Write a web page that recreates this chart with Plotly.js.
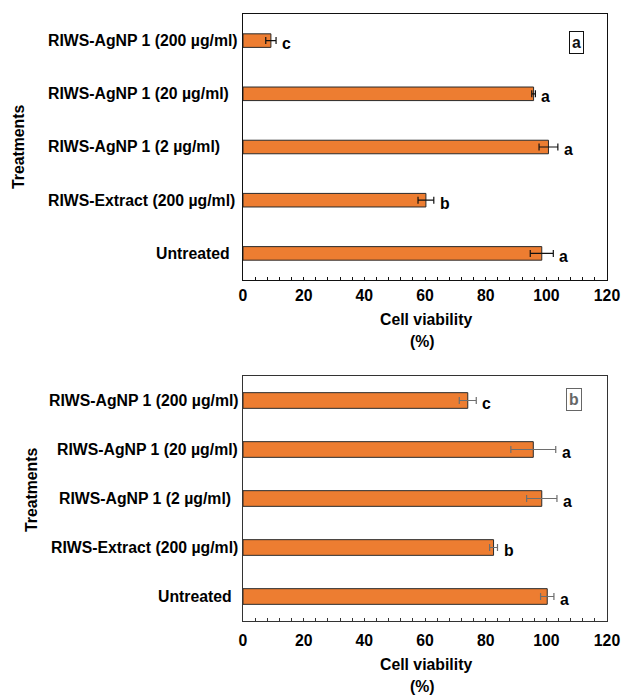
<!DOCTYPE html>
<html>
<head>
<meta charset="utf-8">
<script src="https://cdn.plot.ly/plotly-3.0.1.min.js"></script>
<style>html,body{margin:0;padding:0;background:#fff;}#chart{width:626px;height:695px;}</style>
</head>
<body>
<div id="chart"></div>
<script>
// ---- data ----
const categories = ["Untreated", "RIWS-Extract (200 µg/ml)", "RIWS-AgNP 1 (2 µg/ml)", "RIWS-AgNP 1 (20 µg/ml)", "RIWS-AgNP 1 (200 µg/ml)"];
const valuesA = [98.5, 60.3, 100.7, 95.8, 9.2];
const errorsA = [3.8, 2.6, 3.1, 0.6, 1.7];
const lettersA = ["a", "b", "a", "a", "c"];
const valuesB = [100.3, 82.6, 98.5, 95.7, 74.1];
const errorsB = [2.2, 1.3, 5.0, 7.4, 2.8];
const lettersB = ["a", "b", "a", "a", "c"];
const xTicks = [0, 20, 40, 60, 80, 100, 120];
const xTitle = "Cell viability";
const xUnit = "(%)";
const yTitle = "Treatments";
const panelLabels = ["a", "b"];

// ---- layout helpers ----
const W = 626, H = 695;
const px = x => x / W;
const py = y => 1 - y / H;
const FONT = "Liberation Sans, Arial, sans-serif";
const FS = 15.8;
const font = (size, color) => ({family: FONT, size: size, color: color || "#000", weight: 700});
const ORANGE = "#ED7D31";

// label placement: [anchor, pixel x] per category (same order as categories)
const panels = [
  {vals: valuesA, errs: errorsA, letters: lettersA, top: 14, bottom: 280, axisColor: "#111", errColor: "#111",
   barW: 0.255, labelPos: [["right", 232], ["left", 46], ["left", 46], ["left", 46], ["left", 46]],
   tickStand: 1, titleY: 319, unitY: 341, yTitleX: 18, yTitleY: 147,
   panelBox: {x: 576, y: 42, color: "#111"}},
  {vals: valuesB, errs: errorsB, letters: lettersB, top: 376, bottom: 621, axisColor: "#333", errColor: "#6e6e6e",
   barW: 0.32, labelPos: [["right", 234], ["right", 239.5], ["right", 232.5], ["right", 239.5], ["right", 241]],
   tickStand: 5, titleY: 664, unitY: 686, yTitleX: 32, yTitleY: 490,
   panelBox: {x: 574, y: 399, color: "#666"}}
];

const data = [];
const annotations = [];
const layout = {
  width: W, height: H,
  margin: {l: 0, r: 0, t: 0, b: 0},
  paper_bgcolor: "#fff", plot_bgcolor: "#fff",
  showlegend: false,
  annotations: annotations
};

panels.forEach((p, i) => {
  const xa = i === 0 ? "x" : "x2";
  const ya = i === 0 ? "y" : "y2";
  const xk = i === 0 ? "xaxis" : "xaxis2";
  const yk = i === 0 ? "yaxis" : "yaxis2";
  data.push({
    type: "bar", orientation: "h",
    x: p.vals, y: categories,
    xaxis: xa, yaxis: ya,
    width: p.barW,
    marker: {color: ORANGE, line: {color: "#2a2a2a", width: 1}},
    error_x: {type: "data", array: p.errs, visible: true, color: p.errColor, thickness: 1.2, width: 3.5},
    hoverinfo: "skip"
  });
  layout[xk] = {
    domain: [px(243), px(607)],
    anchor: ya,
    range: [0, 120],
    tickvals: xTicks,
    ticktext: xTicks.map(String),
    ticks: "inside", ticklen: 3.5, tickwidth: 1, tickcolor: p.axisColor,
    minor: {dtick: 4, tick0: 0, ticks: "inside", ticklen: 3.5, tickcolor: p.axisColor, showgrid: false},
    ticklabelstandoff: p.tickStand,
    tickfont: font(FS),
    showline: true, linecolor: p.axisColor, linewidth: 1.3, mirror: true,
    showgrid: false, zeroline: false, fixedrange: true
  };
  layout[yk] = {
    domain: [py(p.bottom), py(p.top)],
    anchor: xa,
    type: "category",
    categoryorder: "array", categoryarray: categories,
    range: [-0.5, 4.5],
    showticklabels: false, ticks: "",
    showline: true, linecolor: p.axisColor, linewidth: 1.3, mirror: true,
    showgrid: false, zeroline: false, fixedrange: true
  };
  // category labels
  categories.forEach((c, k) => {
    annotations.push({
      xref: "paper", yref: ya, x: px(p.labelPos[k][1]), y: c,
      xanchor: p.labelPos[k][0], yanchor: "middle", text: c, showarrow: false,
      font: font(FS)
    });
    annotations.push({
      xref: xa, yref: ya, x: p.vals[k] + p.errs[k], y: c,
      xanchor: "left", yanchor: "middle", xshift: 4, yshift: -3,
      text: p.letters[k], showarrow: false, font: font(FS)
    });
  });
  // axis titles
  annotations.push({xref: "paper", yref: "paper", x: px(426), y: py(p.titleY), xanchor: "center", yanchor: "middle",
    text: xTitle, showarrow: false, font: font(FS)});
  annotations.push({xref: "paper", yref: "paper", x: px(422), y: py(p.unitY), xanchor: "center", yanchor: "middle",
    text: xUnit, showarrow: false, font: font(FS)});
  annotations.push({xref: "paper", yref: "paper", x: px(p.yTitleX), y: py(p.yTitleY), xanchor: "center", yanchor: "middle",
    text: yTitle, textangle: -90, showarrow: false, font: font(FS)});
  // panel label box
  annotations.push({xref: "paper", yref: "paper", x: px(p.panelBox.x), y: py(p.panelBox.y), xanchor: "center", yanchor: "middle",
    text: panelLabels[i], showarrow: false, font: font(FS, p.panelBox.color),
    bordercolor: p.panelBox.color, borderwidth: 1, borderpad: 2, bgcolor: "#fff"});
});

Plotly.newPlot("chart", data, layout, {displayModeBar: false, staticPlot: true});
</script>
</body>
</html>
